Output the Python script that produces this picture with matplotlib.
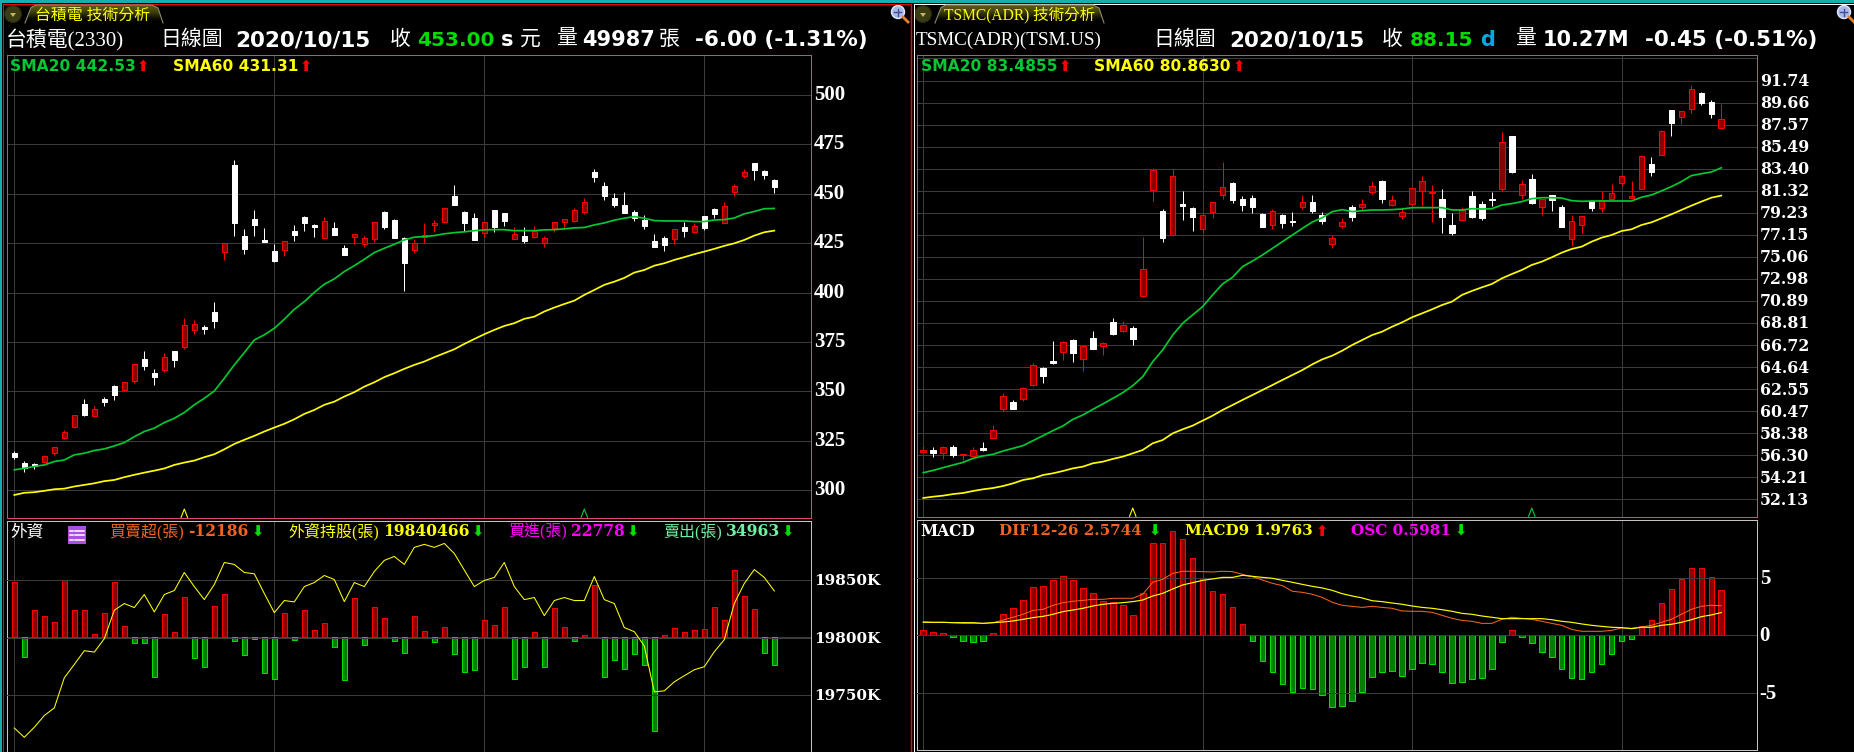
import matplotlib
matplotlib.use("Agg")
import matplotlib.pyplot as plt
from matplotlib.colors import LinearSegmentedColormap
from matplotlib.patches import Polygon, Circle, Rectangle
import numpy as np

# ---- TWSE 2330 daily ----
tw_open = [318.9,313.7,313.2,314.5,318.7,326.6,332.2,343.7,337.3,346.2,352.8,350.9,355,366.4,359.3,361,370.5,372.7,381.3,382.8,
           390.2,420.7,464.6,428.6,437.2,426.6,421.1,421.7,431.2,438.3,434.2,427.8,432.7,422.6,428.1,424.3,427.3,440.8,436.7,427.6,
           421.7,428,434,435.9,448.9,440.8,437.7,430.2,441.8,440.3,427.3,428.6,428.1,425.3,432.7,435.9,436.2,440.8,461,453.9,
           447.9,444.3,440.8,436.7,426.1,427.6,427.3,433.2,430.8,438.8,442.3,435.4,450.6,458.7,465.6,461.5,457]
tw_high = [319.9,314.8,314,317.7,321.7,330.5,338.1,346.2,342.7,347.2,353.3,354.8,364.4,370.5,361.4,369.3,370.5,387.2,386.2,383.6,
           395.3,425.1,467.1,432.2,441.8,432.7,424.6,426.1,434.2,438.8,434.7,438.3,435.7,424.1,429.7,428.6,435.6,441.3,437.2,428.1,
           427.1,435.2,436.7,442.6,454.4,441.3,440.3,435.7,441.8,440.3,433.2,433.2,433.7,428.6,435.7,437.2,442.6,447.7,462.5,456,
           450.4,450.9,441.8,439.3,429.7,428.6,432.2,435.7,435.2,438.8,442.8,445.8,454.9,462.5,465.6,462,457.5]
tw_low = [315.7,309.4,310.6,313.7,317.7,326.1,331.7,337.6,337.3,342.7,345.4,350.2,354.3,360.9,353.3,360,362.4,371.5,379.2,379.1,
          382.1,416.5,428.6,419.5,428.6,425.6,415.2,418.5,426.1,431.2,428.1,427.6,429.1,419,424.6,423.1,425.6,432.2,427.6,400.8,
          420,425.1,430.7,435.2,444.3,431.2,426.6,428.1,430.7,433.7,427.1,425.1,427.6,423.1,430.7,432.2,435.7,439.8,456,446.9,
          443.3,440.3,436.2,432.2,423.1,421.1,424.6,428.1,430.8,431.7,437.7,435.2,448.9,458,457,457.5,450.4]
tw_close = [316.9,311.1,312.3,317.2,321.7,329.3,337.9,338.1,341,344.7,348.2,354.6,363.7,362.9,357.3,367.3,365.9,383.5,384,381.6,
            385.6,424.9,435.2,422.1,434.2,425.6,416,425.9,429.1,435.2,433.2,436.1,429.1,419,429.5,427.5,435.6,433.2,427.6,415,
            424.9,429,435,442.6,444.3,435.2,426.6,435.7,433.2,436.2,429.7,426.1,431.2,427.5,435.6,437,441.6,445.7,458.5,448.9,
            444.3,440.3,437.7,433.7,423.1,424.1,432,431.2,433.5,432.7,439.8,443.6,453.8,460.8,462,459.5,453.4]
tw_sma20 = [310.3,311.1,312,312.8,314.5,315.3,317.9,318.7,320.1,320.9,322.4,324.1,327.1,329.7,331.4,334.2,336.4,339.3,343.2,346.5,
            350.2,356.6,363.4,369.6,376,378.6,381.9,386.5,391.5,395.4,400.1,404.2,406.9,410.6,413.6,416.8,420.2,422.4,424.4,426.6,
            428,428.3,428.8,429.7,430.3,430.7,431.3,431.7,431.8,431.8,431.3,431.3,431.3,431.7,431.8,432.2,432.7,432.9,434.2,435.2,
            436.6,437.6,438.4,437.6,436.4,436.2,436.2,436.2,435.9,435.9,436.7,436.9,437.7,439.8,441,442.4,442.53]
tw_sma60 = [297.6,298.7,299,299.7,300.5,300.8,301.9,302.7,303.5,304.6,305.2,306.6,307.8,308.9,309.9,311,312.8,314,315,316.7,
            318.2,320.7,323.4,325.5,327.5,329.7,331.7,333.6,335.9,338.6,340.6,343.2,344.8,347.4,349.6,352.4,354.6,357.2,359.2,361.4,
            363.4,365.1,367.3,369.3,371.3,374,376.5,378.9,381.1,383.1,384.5,386.7,387.8,390.4,392.4,394.2,395.9,398.8,401.3,403.9,
            405.5,407.4,410.1,411.4,413.6,414.8,416.5,417.9,419.4,420.7,422.1,423.6,424.9,426.6,428.8,430.5,431.31]
# foreign investors: net buy/sell (lots) and holdings (K lots)
fi_net = [23925,-8410,11745,9135,6525,24795,11745,11745,1305,10440,23925,4785,-2610,-2610,-17400,10005,2175,17400,-9135,-13050,
          13485,18705,-1740,-7830,-870,-15660,-18270,10440,-1305,11745,3045,6090,-4350,-18705,16965,-3480,13050,8265,-1740,-6960,
          9135,2610,-2175,4350,-7395,-15225,-14355,7395,5220,13050,-18270,-13050,2175,-13050,12615,4350,-1740,870,22620,-17400,
          -10005,-13920,-7395,-12180,-40890,870,3915,2175,3045,3480,13050,7395,29145,17835,12180,-6960,-12186]
fi_hold = [19721.7,19713.6,19722.3,19732.5,19739.1,19765.2,19776.8,19788.7,19787.5,19799.1,19823.8,19829.6,19826.1,19837.4,19822.3,19837.4,19840.9,19856.5,19844.3,19833,
           19846.1,19865.2,19863.5,19856.5,19855.4,19838.3,19821.7,19832.2,19831,19844.3,19847.8,19853.9,19850.4,19831.3,19847.8,19844.3,19857.4,19867,19870.4,19863.5,
           19878.3,19880.9,19878.3,19881.7,19873,19858.6,19844.3,19849.6,19852.2,19865.2,19844.3,19833,19834.8,19819.1,19832.2,19834.8,19832.2,19832.2,19853,19833,
           19829.6,19808.7,19805.2,19792.8,19753,19753.9,19761.7,19767,19772.2,19774.8,19787.8,19798.3,19829.6,19847,19859.1,19852.2,19840.5]

# ---- TSM ADR daily ----
adr_open = [56.64,56.80,56.54,57.08,56.29,56.26,56.99,57.96,60.71,61.34,61.65,62.98,64.55,65.21,66.03,67.20,65.37,67.39,66.67,68.90,
            68.08,68.34,71.39,81.36,79.40,77.10,80.07,79.69,77.73,79.34,80.95,82.05,80.54,80.63,79.12,78.11,79.02,78.46,79.81,80.25,
            78.99,76.31,78.02,79.78,79.81,81.23,82.24,79.97,78.96,80.10,81.33,81.11,80.54,78.08,78.58,80.82,80.07,80.54,81.52,86.50,
            80.95,82.43,79.81,80.92,79.78,76.75,78.11,80.35,79.72,80.57,82.08,80.66,81.52,83.85,84.73,88.96,88.33,89.08,90.56,89.71,87.29]
adr_high = [57.14,57.05,57.14,57.24,56.39,57.05,57.55,59.16,62.16,61.53,62.72,65.03,64.65,67.11,67.08,67.30,66.63,68.05,66.98,69.28,
            69.00,68.53,76.94,83.44,79.59,83.38,81.30,79.78,79.18,80.22,84.04,82.15,80.82,80.92,79.21,79.59,79.12,79.31,80.92,80.92,
            79.31,77.13,78.74,79.97,80.54,82.24,82.34,80.92,79.78,81.58,82.71,81.86,81.48,79.21,79.78,81.30,80.35,81.20,86.88,86.50,
            82.34,82.90,80.54,80.92,79.97,79.02,78.93,80.35,81.30,81.96,82.81,82.24,84.70,84.51,87.07,88.96,88.86,91.32,90.66,89.90,89.52]
adr_low = [56.61,56.13,55.95,56.13,55.85,56.23,56.70,57.96,60.49,60.67,61.43,62.85,63.13,64.93,65.31,65.12,64.27,66.35,65.78,67.67,
           67.99,66.73,71.27,80.35,76.47,77.04,78.55,77.51,77.29,78.74,80.54,80.16,79.40,79.21,77.89,77.70,77.80,77.98,79.59,79.21,
           78.17,75.90,77.80,78.46,79.50,81.01,80.16,79.88,78.65,80.07,79.88,78.36,77.32,77.13,78.55,78.74,78.55,79.88,81.30,83.00,
           80.54,80.07,79.02,79.40,77.89,76.09,77.32,79.40,79.31,80.54,81.77,80.63,81.48,82.71,84.70,86.50,87.63,88.67,89.43,88.20,87.16]
adr_close = [56.80,56.51,57.05,56.32,56.39,56.76,56.80,58.66,61.87,60.67,62.63,64.81,63.80,65.03,66.98,65.97,66.60,66.35,66.89,67.77,
             68.59,67.30,73.89,83.25,76.85,82.68,79.88,78.84,78.99,80.22,81.64,80.44,79.97,79.78,77.89,79.37,78.27,78.39,80.22,79.40,
             78.46,76.82,78.33,78.84,80.07,81.74,80.54,80.41,79.31,81.55,82.21,81.20,78.84,77.32,79.47,78.84,78.74,80.44,85.90,83.09,
             81.93,80.16,80.51,80.44,77.89,78.43,78.90,79.69,80.47,81.07,82.68,80.82,84.57,83.09,86.94,87.73,88.83,90.91,89.62,88.58,88.15]
adr_sma20 = [54.65,54.87,55.13,55.38,55.63,56.01,56.23,56.39,56.70,56.95,57.21,57.68,58.15,58.63,59.07,59.70,60.11,60.64,61.15,61.68,
             62.22,62.88,63.73,65.15,66.26,67.67,68.78,69.57,70.35,71.46,72.50,73.13,74.14,74.67,75.24,75.87,76.50,77.13,77.76,78.36,
             78.77,79.34,79.53,79.34,79.43,79.50,79.50,79.53,79.59,79.72,79.72,79.72,79.72,79.50,79.50,79.62,79.59,79.62,79.97,80.10,
             80.29,80.57,80.66,80.66,80.63,80.38,80.32,80.35,80.35,80.35,80.35,80.35,80.70,80.92,81.30,81.71,82.18,82.75,82.93,83.09,83.49]
adr_sma60 = [52.26,52.38,52.48,52.63,52.73,52.92,53.08,53.20,53.39,53.64,53.96,54.12,54.43,54.59,54.81,55.06,55.22,55.54,55.69,55.95,
             56.17,56.48,56.80,57.43,57.74,58.37,58.75,59.10,59.57,60.04,60.58,61.05,61.53,62.00,62.47,62.94,63.42,63.89,64.36,64.90,
             65.37,65.72,66.19,66.73,67.20,67.67,67.99,68.46,68.87,69.35,69.72,70.10,70.51,70.83,71.46,71.84,72.18,72.50,73.03,73.44,
             73.82,74.30,74.61,75.02,75.46,75.81,76.03,76.50,76.88,77.13,77.51,77.67,78.08,78.33,78.71,79.09,79.50,79.91,80.29,80.66,80.86]
adr_osc = [.066,.04,.027,-.018,-.071,-.084,-.071,.027,.279,.359,.465,.638,.651,.731,.784,.731,.625,.558,.452,.439,
           .399,.266,.558,1.223,1.223,1.382,1.276,1.023,.758,.585,.545,.372,.146,-.071,-.346,-.492,-.651,-.758,-.704,-.718,
           -.797,-.957,-.944,-.877,-.758,-.558,-.492,-.478,-.545,-.452,-.372,-.385,-.492,-.638,-.625,-.585,-.571,-.452,-.093,.066,
           -.018,-.106,-.226,-.292,-.452,-.571,-.585,-.492,-.385,-.253,-.08,-.053,.12,.199,.425,.611,.744,.89,.89,.771,.598]
adr_dif = [1.19,1.13,1.13,1.10,1.04,1.04,1.04,1.10,1.33,1.57,1.83,2.17,2.26,2.61,2.84,2.96,3.04,3.13,3.13,3.22,
           3.22,3.22,3.57,4.61,4.87,5.39,5.57,5.57,5.54,5.51,5.57,5.54,5.30,5.10,4.81,4.52,4.32,3.83,3.74,3.57,
           3.30,2.87,2.61,2.52,2.43,2.52,2.43,2.35,2.12,2.09,2.09,2.00,1.74,1.48,1.30,1.22,1.04,1.04,1.39,1.57,
           1.48,1.39,1.22,1.04,.87,.52,.35,.35,.35,.43,.64,.61,.72,.87,1.13,1.39,1.83,2.26,2.52,2.61,2.57]
adr_macd = [1.13,1.13,1.13,1.10,1.10,1.10,1.04,1.10,1.16,1.25,1.39,1.54,1.65,1.83,2.06,2.20,2.35,2.55,2.70,2.78,
            2.84,2.93,3.07,3.42,3.65,4.03,4.38,4.58,4.78,4.90,5.04,5.04,5.22,5.13,5.04,4.96,4.78,4.61,4.43,4.26,
            4.12,3.91,3.62,3.42,3.25,3.01,2.93,2.81,2.70,2.55,2.43,2.35,2.23,2.09,1.91,1.83,1.68,1.57,1.45,1.45,
            1.45,1.45,1.45,1.36,1.22,1.13,.99,.87,.78,.70,.67,.58,.70,.70,.87,.96,1.13,1.36,1.62,1.77,1.98]

tw_ticks = [300,325,350,375,400,425,450,475,500]
adr_ticks = [52.13,54.21,56.30,58.38,60.47,62.55,64.64,66.72,68.81,70.89,72.98,75.06,77.15,79.23,81.32,83.40,85.49,87.57,89.66,91.74]
adr_extra_grid = 93.83
fi_ticks = [19750,19800,19850]
macd_ticks = [-5,0,5]
tw_month_idx = [0,26,47,69]
adr_month_idx = [0,28,49,70]
tw_signals = [(17,'#ffff00'),(57,'#00c832')]
adr_signals = [(21,'#ffff00'),(61,'#00c832')]

W, H = 1854, 752
GRID = '#3c3c3c'
PINK = '#e8407f'
LIGHT = '#c4c4c4'
RED = '#ff0000'
DARKRED = '#8b0000'
GREEN = '#00e000'
DARKGREEN = '#007f00'
MA_GREEN = '#00c832'
YELLOW = '#ffff00'
ORANGE = '#f0641e'
SERIF = 'DejaVu Serif'
CJK = ['Liberation Serif', 'Noto Sans CJK TC']
PX = 0.72  # one pixel in points at dpi 100
BAR_W = 0.56

fig = plt.figure(figsize=(W/100, H/100), dpi=100, facecolor='black')


def new_axes(x0, x1, y0, y1, xlim, ylim, edge):
    ax = fig.add_axes([x0/W, 1-y1/H, (x1-x0)/W, (y1-y0)/H], facecolor='black')
    ax.set_xlim(*xlim)
    ax.set_ylim(*ylim)
    ax.set_xticks([])
    ax.set_yticks([])
    for s in ax.spines.values():
        s.set_color(edge)
        s.set_linewidth(PX)
    return ax


def draw_grid(ax, months, levels):
    for x in months:
        ax.axvline(x, color=GRID, lw=PX, zorder=1)
    for y in levels:
        ax.axhline(y, color=GRID, lw=PX, zorder=1)


def candles(ax, o, h, l, c):
    o, h, l, c = map(np.array, (o, h, l, c))
    x = np.arange(len(o))
    up = c >= o
    ax.vlines(x[up], l[up], h[up], color=RED, lw=PX, zorder=3)
    ax.vlines(x[~up], l[~up], h[~up], color='white', lw=PX, zorder=3)
    ax.bar(x[up], (c-o)[up], bottom=o[up], width=BAR_W, color=DARKRED, edgecolor=RED, linewidth=PX, zorder=4)
    ax.bar(x[~up], (o-c)[~up], bottom=c[~up], width=BAR_W, color='white', edgecolor='white', linewidth=PX, zorder=4)


def signal_marks(ax, sigs):
    # little carets sitting on the bottom of the price panel
    tr = ax.get_xaxis_transform()
    for i, col in sigs:
        ax.plot([i-0.32, i, i+0.32], [0.002, 0.02, 0.002], color=col, lw=0.8, transform=tr, zorder=5, clip_on=False)


def bars(ax, vals):
    vals = np.array(vals)
    x = np.arange(len(vals))
    pos = vals >= 0
    ax.bar(x[pos], vals[pos], width=BAR_W, color=DARKRED, edgecolor=RED, linewidth=PX, zorder=2)
    ax.bar(x[~pos], vals[~pos], width=BAR_W, color=DARKGREEN, edgecolor=GREEN, linewidth=PX, zorder=2)


def tick_label(ax, v, s, family, size, dy=-1):
    ax.annotate(s, (1, v), xycoords=ax.get_yaxis_transform(), xytext=(3, dy), textcoords='offset pixels',
                color='white', family=family, weight='bold', size=size, va='center', ha='left')


# ---- left: price ----
ax1 = new_axes(7.3, 810.7, 55.3, 518.3, (-0.7, 79.64), (285.8, 520), PINK)
draw_grid(ax1, tw_month_idx, tw_ticks)
candles(ax1, tw_open, tw_high, tw_low, tw_close)
ax1.plot(tw_sma20, color=MA_GREEN, lw=1.25, zorder=5)
ax1.plot(tw_sma60, color=YELLOW, lw=1.25, zorder=5)
signal_marks(ax1, tw_signals)

# ---- left: foreign investors ----
ax2 = new_axes(7.3, 810.7, 521.3, 753, (-0.7, 79.64), (-50400, 50460), LIGHT)
bars(ax2, fi_net)
ax2b = ax2.twinx()
ax2b.set_ylim(19700, 19900.9)
ax2b.set_yticks([])
ax2b.set_zorder(ax2.get_zorder()+1)
ax2b.patch.set_visible(False)
for s in ax2b.spines.values():
    s.set_visible(False)
draw_grid(ax2, tw_month_idx, [])
ax2.axhline(0, color=GRID, lw=PX, zorder=1)
for v in fi_ticks:
    ax2b.axhline(v, color=GRID, lw=PX, zorder=1)
ax2b.plot(fi_hold, color=YELLOW, lw=0.75, zorder=5)

# ---- right: price ----
ax3 = new_axes(917.3, 1756.7, 55.3, 517.3, (-0.6, 83.55), (50.43, 94.13), PINK)
draw_grid(ax3, adr_month_idx, adr_ticks + [adr_extra_grid])
candles(ax3, adr_open, adr_high, adr_low, adr_close)
ax3.plot(adr_sma20, color=MA_GREEN, lw=1.25, zorder=5)
ax3.plot(adr_sma60, color=YELLOW, lw=1.25, zorder=5)
signal_marks(ax3, adr_signals)

# ---- right: MACD ----
ax4 = new_axes(917.3, 1756.7, 520, 750.3, (-0.6, 83.55), (-1.528, 1.532), LIGHT)
bars(ax4, adr_osc)
ax4b = ax4.twinx()
ax4b.set_ylim(-10, 10.03)
ax4b.set_yticks([])
ax4b.set_zorder(ax4.get_zorder()+1)
ax4b.patch.set_visible(False)
for s in ax4b.spines.values():
    s.set_visible(False)
draw_grid(ax4, adr_month_idx, [])
for v in macd_ticks:
    ax4b.axhline(v, color=GRID, lw=PX, zorder=1)
ax4b.plot(adr_dif, color=ORANGE, lw=0.75, zorder=5)
ax4b.plot(adr_macd, color=YELLOW, lw=0.85, zorder=6)

# ---- tick labels ----
for v in tw_ticks:
    tick_label(ax1, v, str(v), 'Liberation Serif', 15, dy=0)
for v in adr_ticks:
    tick_label(ax3, v, '%.2f' % v, SERIF, 11.3)
for v in fi_ticks:
    tick_label(ax2b, v, '%dK' % v, SERIF, 11)
for v in macd_ticks:
    tick_label(ax4b, v, str(v), 'Liberation Serif', 15)

# ---- window chrome and header text, in pixel coordinates ----
top = fig.add_axes([0, 0, 1, 1], facecolor='none', zorder=20)
top.set_xlim(0, W)
top.set_ylim(H, 0)
top.axis('off')


def txt(x, y, s, color='white', size=15, family='DejaVu Sans', weight='bold'):
    top.text(x, y, s, color=color, size=size, family=family, weight=weight, ha='left', va='center')


def arrow(x, y, up):
    txt(x-6, y, '⬆' if up else '⬇', color=RED if up else '#00e000', size=10.5)


def tab(x0, x1, label, text_x, size):
    edge = [(x0, 23), (x0+6, 7.5), (x0+11, 5), (x1-11, 5), (x1-5, 8), (x1, 23)]
    poly = Polygon(edge, closed=True, facecolor='none', edgecolor='none', zorder=3)
    top.add_patch(poly)
    grad = np.array([[0.55], [0.45], [0.3], [0.12], [0.0]])
    cmap = LinearSegmentedColormap.from_list('t', ['black', '#a0a020'])
    im = top.imshow(grad, extent=(x0, x1, 23, 5), aspect='auto', cmap=cmap, vmin=0, vmax=1, zorder=2,
                    interpolation='bilinear')
    im.set_clip_path(poly)
    top.plot([p[0] for p in edge], [p[1] for p in edge], color='#8a8a70', lw=0.8, zorder=3)
    txt(text_x, 15.5, label, color=YELLOW, size=size, family=CJK, weight='normal')


def button(x):
    top.add_patch(Circle((x, 14), 8.5, facecolor='#3c3c14', edgecolor='#24240c', lw=0.8))
    top.add_patch(Polygon([(x-3, 13), (x+3, 13), (x, 17)], facecolor='#c0b860', edgecolor='none'))


def magnifier(x):
    top.add_patch(Circle((x, 12), 6.5, facecolor='#a8b8e8', edgecolor='#e0e8ff', lw=1))
    top.plot([x-3.5, x+3.5], [12, 12], color='#405090', lw=1)
    top.plot([x, x], [8.5, 15.5], color='#405090', lw=1)
    top.plot([x+5, x+10], [17, 22], color='#e08030', lw=2)


top.add_patch(Rectangle((0, 0), W, 2.6, facecolor='#14b0b0', edgecolor='none'))
top.add_patch(Rectangle((0, 0), 2.3, H, facecolor='#14b0b0', edgecolor='none'))
top.plot([3.3, 911], [3.5, 3.5], color=RED, lw=PX)
top.plot([3.3, 3.3], [3.5, H], color=RED, lw=PX)
top.plot([911, 911], [3.5, H], color=RED, lw=1)
top.plot([914, W], [3.5, 3.5], color='white', lw=PX)
top.plot([914, 914], [3.5, H], color='white', lw=PX)

button(13)
button(923)
tab(25, 163, '台積電 技術分析', 35, 11.4)
tab(935, 1104, 'TSMC(ADR) 技術分析', 944, 11.2)
magnifier(898)
magnifier(1844)

# left header
y = 40
txt(6, y, '台積電(2330)', size=15, family=CJK, weight='normal')
txt(160, y, '日線圖', size=15, family=CJK, weight='normal')
txt(235, y, '2020/10/15', size=15.5)
txt(390, y, '收', size=15, family=CJK, weight='normal')
txt(417, y, '453.00', color='#00dc00', size=14.5)
txt(501, y, 's', size=15)
txt(520, y, '元', size=15, family=CJK, weight='normal')
txt(556, y, '量', size=15, family=CJK, weight='normal')
txt(582, y, '49987', size=15)
txt(659, y, '張', size=15, family=CJK, weight='normal')
txt(695, y, '-6.00 (-1.31%)', size=15.5)
y = 66.5
txt(10, y, 'SMA20 442.53', color=MA_GREEN, size=11.2)
arrow(143, y, True)
txt(173, y, 'SMA60 431.31', color=YELLOW, size=11.2)
arrow(306, y, True)

# right header
y = 40
txt(916, y, 'TSMC(ADR)(TSM.US)', size=13.8, family=CJK, weight='normal')
txt(1153, y, '日線圖', size=15, family=CJK, weight='normal')
txt(1229, y, '2020/10/15', size=15.5)
txt(1382, y, '收', size=15, family=CJK, weight='normal')
txt(1410, y, '88.15', color='#00dc00', size=14.5)
txt(1480, y, 'd', color='#00a8e0', size=15)
txt(1515, y, '量', size=15, family=CJK, weight='normal')
txt(1543, y, '10.27M', size=15)
txt(1645, y, '-0.45 (-0.51%)', size=15.5)
y = 66.5
txt(921, y, 'SMA20 83.4855', color=MA_GREEN, size=11.2)
arrow(1065, y, True)
txt(1094, y, 'SMA60 80.8630', color=YELLOW, size=11.2)
arrow(1239, y, True)

# lower left legend
y = 532
txt(10, y, '外資', size=12, family=CJK, weight='normal')
top.add_patch(Rectangle((68, 526), 18, 18, facecolor='#a850e0', edgecolor='none'))
for ly in (530.5, 535, 539.5):
    top.plot([75, 84], [ly, ly], color='white', lw=1.1)
    top.plot([70, 73], [ly, ly], color='white', lw=1.1)
txt(109, y, '買賣超(張)', color=ORANGE, size=11.5, family=CJK, weight='normal')
txt(188, y, '-12186', color=ORANGE, size=11.2, family=SERIF)
arrow(258, y, False)
txt(288, y, '外資持股(張)', color=YELLOW, size=11.5, family=CJK, weight='normal')
txt(383, y, '19840466', color=YELLOW, size=11.2, family=SERIF)
arrow(478, y, False)
txt(508, y, '買進(張)', color='#ff00ff', size=11.5, family=CJK, weight='normal')
txt(571, y, '22778', color='#ff00ff', size=11.2, family=SERIF)
arrow(633, y, False)
txt(663, y, '賣出(張)', color='#70f0a0', size=11.5, family=CJK, weight='normal')
txt(726, y, '34963', color='#70f0a0', size=11.2, family=SERIF)
arrow(788, y, False)

# lower right legend
y = 531
txt(920, y, 'MACD', size=11.2, family=SERIF)
txt(999, y, 'DIF12-26 2.5744', color=ORANGE, size=10.9, family=SERIF)
arrow(1155, y, False)
txt(1185, y, 'MACD9 1.9763', color=YELLOW, size=10.9, family=SERIF)
arrow(1322, y, True)
txt(1351, y, 'OSC 0.5981', color='#ff00ff', size=11, family=SERIF)
arrow(1461, y, False)

fig.savefig('out.png', dpi=100, facecolor='black')
